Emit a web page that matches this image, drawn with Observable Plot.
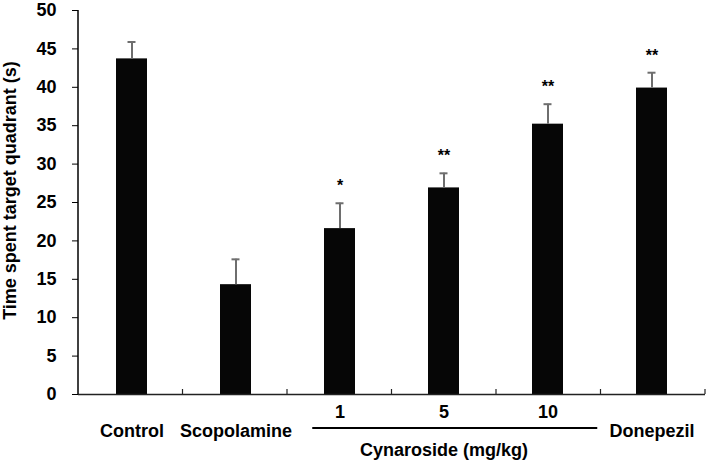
<!DOCTYPE html>
<html>
<head>
<meta charset="utf-8">
<script src="https://cdn.jsdelivr.net/npm/d3@7"></script>
<script src="https://cdn.jsdelivr.net/npm/@observablehq/plot@0.6"></script>
<style>
  html, body { margin: 0; padding: 0; background: #fff; }
</style>
</head>
<body>
<div id="chart"></div>
<script>
const groups = ["Control", "Scopolamine", "1", "5", "10", "Donepezil"];
const means = [43.7, 14.3, 21.6, 26.9, 35.2, 39.9];
const sems = [2.2, 3.3, 3.3, 1.9, 2.6, 2.0];
const stars = ["", "", "*", "**", "**", "**"];
const doseGroups = ["1", "5", "10"];
const yTicks = [0, 5, 10, 15, 20, 25, 30, 35, 40, 45, 50];
const yLabel = "Time spent target quadrant (s)";
const groupTitle = "Cynaroside (mg/kg)";

const data = groups.map((g, i) => ({group: g, mean: means[i], sem: sems[i], top: means[i] + sems[i], star: stars[i]}));
const font = "'Liberation Sans', Arial, Helvetica, sans-serif";

const plot = Plot.plot({
  width: 710,
  height: 460,
  marginLeft: 78,
  marginRight: 5,
  marginTop: 10,
  marginBottom: 66,
  style: {fontFamily: font, fontWeight: "bold", fontSize: "18px", color: "#000", background: "#fff"},
  x: {domain: groups, paddingInner: 0.7, paddingOuter: 0.35, axis: null},
  y: {domain: [0, 50], ticks: yTicks, tickSize: 6, tickPadding: 16, label: null},
  marks: [
    Plot.barY(data, {x: "group", y: "mean", fill: "#060606"}),
    Plot.ruleX(data, {x: "group", y1: "mean", y2: "top", stroke: "#6e6e6e", strokeWidth: 2}),
    Plot.tickY(data, {x: "group", y: "top", stroke: "#6e6e6e", strokeWidth: 2, inset: 11.5}),
    Plot.text(data.filter(d => d.star), {x: "group", y: "top", text: "star", dy: -17, fontSize: 16, fontWeight: "bold", fill: "#000"}),
    Plot.ruleY([0], {stroke: "#222", strokeWidth: 1.5}),
    Plot.text(groups.filter(g => !doseGroups.includes(g)), {x: d => d, y: 0, text: d => d, dy: 37, fontSize: 18, fontWeight: "bold", fill: "#000"}),
    Plot.text(doseGroups, {x: d => d, y: 0, text: d => d, dy: 18, fontSize: 18, fontWeight: "bold", fill: "#000"}),
    Plot.text([groupTitle], {x: () => "5", y: 0, text: d => d, dy: 56, fontSize: 18, fontWeight: "bold", fill: "#000"}),
    Plot.text([yLabel], {frameAnchor: "left", textAnchor: "middle", text: d => d, rotate: -90, dx: -68, dy: -12, fontSize: 18, fontWeight: "bold", fill: "#000"})
  ]
});

document.getElementById("chart").appendChild(plot);

// Axis decorations drawn from Plot's own scales
const sx = plot.scale("x");
const sy = plot.scale("y");
const band = d3.scaleBand(sx.domain, sx.range)
  .paddingInner(sx.paddingInner ?? 0.7)
  .paddingOuter(sx.paddingOuter ?? 0.35);
const yPos = d3.scaleLinear(sy.domain, sy.range);
const svg = d3.select(plot);
const g = svg.append("g");
// y axis line
g.append("line")
  .attr("x1", sx.range[0]).attr("x2", sx.range[0])
  .attr("y1", yPos(50)).attr("y2", yPos(0))
  .attr("stroke", "#000").attr("stroke-width", 1.5);
// category boundary ticks on x axis
const step = band.step();
groups.forEach(gr => {
  const xb = band(gr) + band.bandwidth() + step * band.paddingInner() / 2;
  g.append("line")
    .attr("x1", xb).attr("x2", xb)
    .attr("y1", yPos(0)).attr("y2", yPos(0) - 5)
    .attr("stroke", "#222").attr("stroke-width", 1.2);
});
// underline for dose group
const x1 = band("1") + band.bandwidth() / 2 - 27;
const x2 = band("10") + band.bandwidth() / 2 + 49;
g.append("line")
  .attr("x1", x1).attr("x2", x2)
  .attr("y1", yPos(0) + 34).attr("y2", yPos(0) + 34)
  .attr("stroke", "#000").attr("stroke-width", 2);
</script>
</body>
</html>
